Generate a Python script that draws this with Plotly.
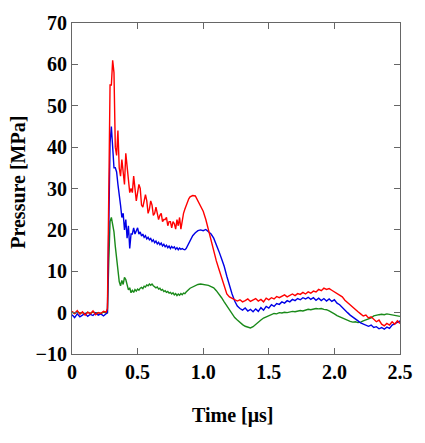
import plotly.graph_objects as go

# Time grid [µs]
time_a = [0.00, 0.02, 0.04, 0.06, 0.08, 0.10, 0.12, 0.14, 0.16, 0.18, 0.20, 0.22, 0.24, 0.26]
time_b = [round(0.27 + 0.01 * i, 2) for i in range(64)]
time_c = [round(0.92 + 0.02 * i, 2) for i in range(80)]
time_us = time_a + time_b + time_c

red_mpa = [
    0.3, -0.2, 0.5, -0.4, 0.2, -0.6, 0.1, -0.3, 0.4, -0.5, 0.0, -0.2, 0.3, 0.1,
    1.0, 30, 55, 55, 61, 58, 40, 38, 44, 35,
    33, 37, 34, 31, 38.5, 35, 31, 29, 30, 29,
    33, 30, 27, 29, 31, 30, 26, 25.5, 27, 28.5,
    27, 24, 25, 27, 26, 23.5, 24, 25.5, 24, 22.5,
    23.5, 24, 22, 22.5, 22.5, 23, 21, 22, 22, 20.5,
    22, 21.5, 20.2, 22.5, 21, 23, 20.2, 22.5, 24, 25,
    26, 27, 27.5, 28,
    28.3, 28.2, 27, 25.5, 24.5, 22.5, 20, 17, 15, 12.5,
    10.5, 8.5, 6.5, 4.5, 3.8, 3.5, 3.2, 2.8, 3.1, 2.6,
    2.9, 3.3, 2.7, 3.0, 3.4, 2.8, 3.2, 2.6, 3.5, 3.1,
    3.6, 3.3, 3.9, 3.6, 3.9, 4.3, 3.8, 4.2, 4.5, 4.1,
    4.6, 4.4, 4.9, 4.5, 5.0, 4.7, 5.2, 5.0, 5.6, 5.3,
    5.9, 5.6, 5.8, 5.4, 5.0, 4.8, 4.2, 3.8, 3.0, 2.4,
    1.8, 1.2, 0.6, 0.2, -0.3, -0.8, -0.6, -1.3, -1.0, -1.6,
    -2.2, -1.8, -2.8, -3.2, -2.6, -3.0, -2.2, -2.8, -2.0, -2.6,
]

blue_mpa = [
    -0.5, -1.2, -0.3, -1.0, -0.6, -0.2, -0.9, -0.4, -0.7, -0.1, -0.6, -0.3, -0.8, -0.2,
    0.0, 20, 41, 45, 40, 35, 35, 34, 31, 29,
    26, 23, 24, 20, 22.5, 18, 21, 15.5, 19, 19,
    20.5, 19, 20, 20.5, 19, 19.5, 18.5, 19, 18.2, 18.6,
    17.8, 18.2, 17.6, 17.9, 17.2, 17.6, 16.9, 17.3, 16.6, 17.0,
    16.4, 16.8, 16.1, 16.5, 15.9, 16.3, 15.7, 16.1, 15.5, 16.0,
    15.6, 15.9, 15.3, 15.7, 15.2, 15.6, 15.3, 15.5, 15.3, 15.2,
    15.5, 16.2, 16.9, 17.6,
    18.6, 19.3, 19.8, 20.0, 19.8, 20.1, 19.6, 19.0, 18.0, 16.5,
    14.8, 13.0, 11.2, 8.8, 6.5, 4.5, 2.8, 1.6, 1.0, 0.6,
    1.1, 0.4, 0.8, 0.2, 0.9, 0.3, 1.2, 0.6, 1.5, 1.1,
    1.9, 1.5, 2.2, 2.0, 2.6, 2.3, 2.9, 2.6, 3.2, 2.9,
    3.4, 3.1, 3.6, 3.3, 3.7, 3.2, 3.6, 3.0, 3.5, 2.9,
    3.4, 2.8, 3.3, 2.7, 3.1, 2.3, 1.9, 1.2, 0.6, 0.0,
    -0.6, -1.0, -1.6, -2.0, -2.5, -2.8, -3.1, -3.3, -3.0, -3.6,
    -3.4, -3.9, -3.6, -4.0, -3.5, -3.8, -3.0, -2.6, -2.2, -2.0,
]

green_mpa = [
    0.1, -0.2, 0.2, -0.1, 0.0, -0.3, 0.1, -0.2, 0.2, -0.1, 0.0, -0.2, 0.1, 0.0,
    0.0, 12, 22, 23, 21.5, 19.5, 16, 13, 10, 7.5,
    6.5, 7.8, 6.8, 8.5, 8.0, 6.5, 5.5, 6.0, 4.8, 5.4,
    4.9, 5.6, 5.2, 5.7, 5.4, 5.9, 6.1, 5.8, 6.4, 6.2,
    6.7, 6.5, 6.9, 6.6, 6.9, 6.5, 6.3, 6.0, 6.2, 5.7,
    5.9, 5.4, 5.6, 5.1, 5.3, 4.9, 5.1, 4.7, 4.9, 4.5,
    4.8, 4.3, 4.6, 4.1, 4.5, 4.2, 4.6, 4.3, 4.7, 4.6,
    5.0, 5.2, 5.6, 5.9,
    6.2, 6.5, 6.8, 6.9, 6.8, 6.7, 6.6, 6.3, 6.0, 5.3,
    4.5, 3.6, 2.6, 1.6, 0.7, -0.3, -1.2, -1.8, -2.4, -2.9,
    -3.3, -3.6, -3.7, -3.4, -2.8, -2.3, -1.8, -1.3, -1.0, -0.6,
    -0.4, -0.2, -0.3, 0.0, -0.1, 0.1, 0.0, 0.2, 0.3, 0.2,
    0.4, 0.5, 0.4, 0.6, 0.8, 0.7, 0.9, 1.0, 0.9, 1.0,
    0.8, 0.7, 0.4, 0.1, -0.3, -0.7, -1.0, -1.4, -1.7, -2.0,
    -2.1, -2.3, -2.2, -2.4, -2.3, -2.0, -1.8, -1.5, -1.3, -0.8,
    -0.6, -0.5, -0.4, -0.5, -0.3, -0.4, -0.5, -0.6, -0.8, -0.9,
]

x_ticks = [0, 0.5, 1.0, 1.5, 2.0, 2.5]
x_tick_text = ["0", "0.5", "1.0", "1.5", "2.0", "2.5"]
y_ticks = [-10, 0, 10, 20, 30, 40, 50, 60, 70]

assert len(red_mpa) == len(time_us)
assert len(blue_mpa) == len(time_us)
assert len(green_mpa) == len(time_us)

fig = go.Figure()
for vals, col in [(green_mpa, "#1a8a1a"), (blue_mpa, "#0000e6"), (red_mpa, "#ff0000")]:
    fig.add_trace(go.Scatter(x=time_us, y=vals, mode="lines",
                             line=dict(color=col, width=1.4), showlegend=False))

font_family = '"Liberation Serif", "Times New Roman", serif'
axis_common = dict(showgrid=False, zeroline=False, showline=True, linecolor="#666666",
                   linewidth=1.2, mirror="ticks", ticks="inside", ticklen=6,
                   tickcolor="#666666", tickwidth=1.2,
                   tickfont=dict(family=font_family, size=20, color="black", weight="bold"))

fig.update_xaxes(range=[0, 2.5], tickvals=x_ticks, ticktext=x_tick_text, **axis_common)
fig.update_yaxes(range=[-10, 70], tickvals=y_ticks, **axis_common)

fig.update_layout(
    width=425, height=443,
    margin=dict(l=72, r=13, t=13, b=89),
    paper_bgcolor="white", plot_bgcolor="white",
    annotations=[
        dict(text="Time [μs]", xref="paper", yref="paper", x=0.49, y=-0.185,
             xanchor="center", yanchor="middle", showarrow=False,
             font=dict(family=font_family, size=20, color="black", weight="bold")),
        dict(text="Pressure [MPa]", xref="paper", yref="paper", x=-0.165, y=0.52,
             xanchor="center", yanchor="middle", textangle=-90, showarrow=False,
             font=dict(family=font_family, size=20, color="black", weight="bold")),
    ],
)

fig.write_html("out.html")
